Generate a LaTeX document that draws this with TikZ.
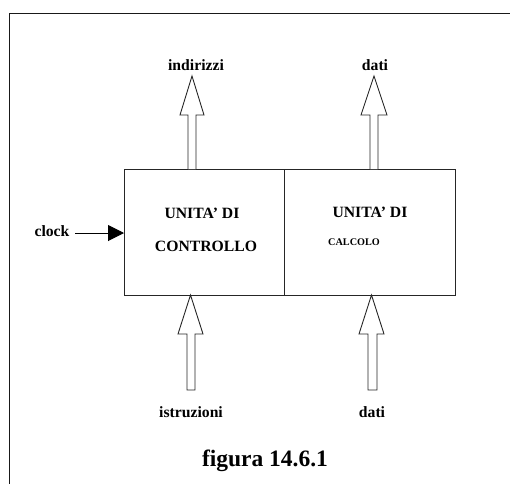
\documentclass[tikz,border=0pt]{standalone}
\usepackage{fontspec}
\setmainfont{Liberation Serif}
\usetikzlibrary{arrows.meta}
\newcommand{\apos}{{\char"27}}
\begin{document}
\begin{tikzpicture}[x=1pt,y=-1pt,
  lbl/.style={font=\bfseries\fontsize{15.7}{17}\selectfont, inner sep=0pt, anchor=base},
  small/.style={font=\bfseries\fontsize{10.2}{12}\selectfont, inner sep=0pt, anchor=base},
  unit/.style={draw=black!85, line width=1.3pt, inner sep=0pt},
  blockarrow/.style={draw=black!85, line width=0.9pt, fill=white, line join=miter},
  frame/.style={draw=black!90, line width=1pt}]
\useasboundingbox (0,0) rectangle (510,484);

% outer frame (top and left sides)
\draw[frame] (510,14) -- (9,14) -- (9,484);

% the two units
\node[unit, minimum width=160pt, minimum height=126pt, anchor=north west] (cu) at (124,169) {};
\node[unit, minimum width=171pt, minimum height=126pt, anchor=north west] (alu) at (284,169) {};

% unit texts
\node[lbl] (cu1) at (202,218) {UNITA\apos{} DI};
\node[lbl] (cu2) at (206,251) {CONTROLLO};
\node[lbl] (alu1) at (370,217) {UNITA\apos{} DI};
\node[small] (alu2) at (354,245) {CALCOLO};

% outer labels
\node[lbl] (ind) at (196,71) {indirizzi};
\node[lbl] (dout) at (375,71) {dati};
\node[lbl] (clk) at (52,236) {clock};
\node[lbl] (ist) at (191,417) {istruzioni};
\node[lbl] (din) at (372,417) {dati};
\node[font=\bfseries\fontsize{23.5}{26}\selectfont, inner sep=0pt, anchor=base] (cap) at (265,466) {figura 14.6.1};

% clock input
\coordinate (clkstart) at (75,233);
\draw[line width=1pt, -{Triangle[length=16pt,width=16pt]}] (clkstart) -- (cu.west |- clkstart);

% block arrows: upward outputs
\draw[blockarrow] (188,169) -- (188,115) -- (180,115) -- (192,76) -- (204,115) -- (196,115) -- (196,169);
\draw[blockarrow] (370,169) -- (370,115) -- (361,115) -- (374,76) -- (387,115) -- (378,115) -- (378,169);

% block arrows: upward inputs
\draw[blockarrow] (187,390) -- (187,334) -- (178,334) -- (190.5,295) -- (203,334) -- (195,334) -- (195,390) -- cycle;
\draw[blockarrow] (368,390) -- (368,334) -- (359,334) -- (371.5,295) -- (384,334) -- (377,334) -- (377,390) -- cycle;
\end{tikzpicture}
\end{document}
